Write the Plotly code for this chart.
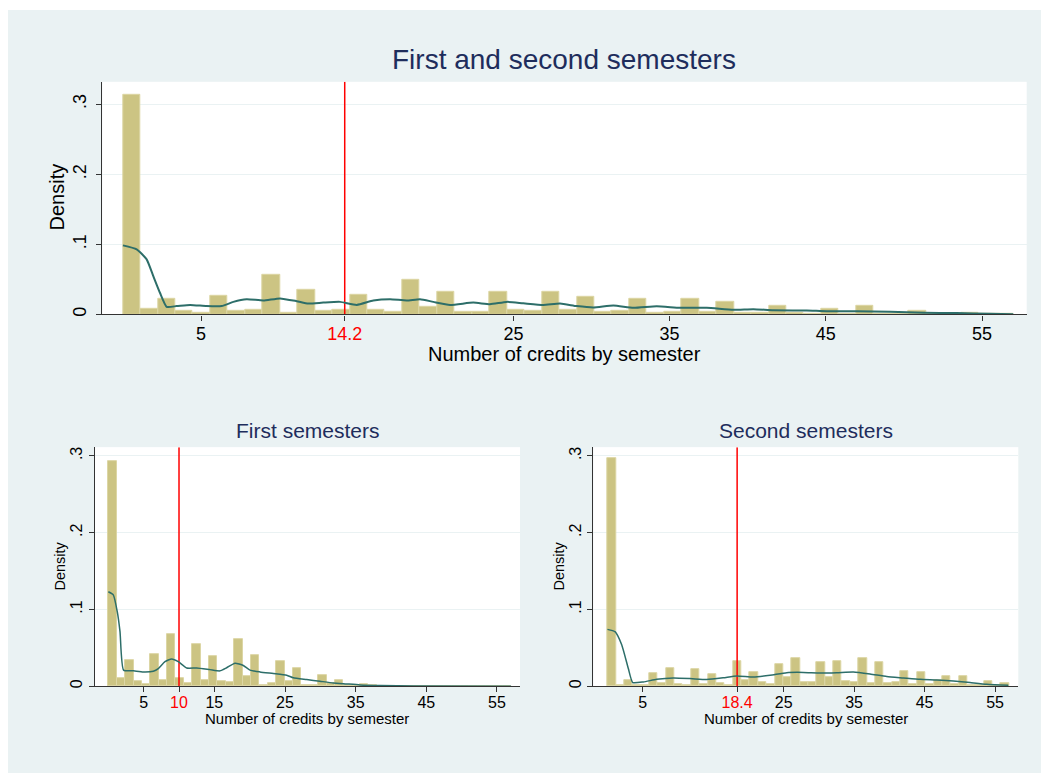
import plotly.graph_objects as go

# ---------------- data ----------------
credit_max = 57

top_heights = [0.314, 0.0076, 0.023, 0.0047, 0.002, 0.026, 0.0047, 0.006, 0.057, 0.003,
               0.035, 0.0057, 0.006, 0.028, 0.006, 0.0045, 0.050, 0.0105, 0.032, 0.0045,
               0.0045, 0.033, 0.006, 0.005, 0.032, 0.0072, 0.025, 0.004, 0.005, 0.022,
               0.003, 0.004, 0.022, 0.004, 0.018, 0.002, 0.002, 0.012, 0.002, 0.0015,
               0.0076, 0.0015, 0.012, 0.0015, 0.001, 0.005, 0.001, 0.001, 0.003, 0.001,
               0.0005]
first_heights = [0.2935, 0.011, 0.0346, 0.006, 0.003, 0.042, 0.0078, 0.068, 0.011, 0.0043,
                 0.055, 0.0074, 0.039, 0.006, 0.0048, 0.061, 0.0126, 0.041, 0.002, 0.004,
                 0.033, 0.007, 0.023, 0.002, 0.0013, 0.015, 0.004, 0.0078, 0.0013, 0.001,
                 0.003, 0.0013, 0.0005, 0.0004, 0.0003, 0.0003, 0.0002, 0.0002, 0.0002, 0.0001,
                 0.0002, 0.0001, 0.0001, 0.0001, 0.0001, 0.0001, 0.0001, 0.0001]
second_heights = [0.297, 0.001, 0.0078, 0.002, 0.001, 0.0169, 0.0035, 0.0238, 0.0026, 0.0013,
                  0.0216, 0.003, 0.0156, 0.0043, 0.002, 0.0325, 0.0078, 0.018, 0.0048, 0.0026,
                  0.0286, 0.012, 0.036, 0.0048, 0.0048, 0.031, 0.012, 0.0325, 0.0065, 0.0048,
                  0.036, 0.0039, 0.032, 0.0035, 0.0048, 0.020, 0.003, 0.018, 0.003, 0.0078,
                  0.0126, 0.003, 0.0126, 0.0017, 0.0017, 0.006, 0.0017, 0.0035]

top_kde_x = [0, 0.88, 1.52, 1.94, 2.37, 2.8, 3.44, 4.3, 5.36, 6.32, 7.07, 7.92, 8.99, 10.06,
             11.13, 11.87, 12.83, 13.9, 14.97, 16.03, 17.1, 18.17, 19.02, 19.87, 20.94,
             22.43, 23.5, 24.57, 25.63, 26.91, 27.98, 29.05, 30.12, 31.4, 32.68, 34.17,
             35.67, 37.38, 39.08, 40.36, 41.64, 43.78, 45.06, 46.98, 49.11, 51.24, 53.38,
             55.51, 57.0]
top_kde_y = [0.0986, 0.093, 0.0787, 0.055, 0.031, 0.011, 0.012, 0.0137, 0.012, 0.012, 0.018,
             0.0218, 0.020, 0.023, 0.019, 0.0156, 0.017, 0.018, 0.0137, 0.020, 0.0218, 0.020,
             0.0218, 0.018, 0.0137, 0.017, 0.0147, 0.018, 0.016, 0.0137, 0.0156, 0.012,
             0.010, 0.0128, 0.0095, 0.0118, 0.0095, 0.0095, 0.0066, 0.0076, 0.006, 0.0057,
             0.0047, 0.0047, 0.0038, 0.0024, 0.002, 0.001, 0.0005]

first_kde_x = [0, 0.7, 1.26, 1.65, 2.15, 3.53, 4.94, 6.36, 7.07, 8.01, 8.96, 9.9, 11.08,
               12.5, 14.38, 15.8, 16.74, 17.92, 19.1, 20.05, 21.46, 23.35, 25.24, 26.17,
               28.07, 29.95, 31.84, 33.73, 35.62, 38.45, 43.16, 57]
first_kde_y = [0.123, 0.119, 0.097, 0.071, 0.021, 0.020, 0.0186, 0.0195, 0.023, 0.032,
               0.0355, 0.032, 0.0238, 0.0238, 0.0216, 0.020, 0.024, 0.030, 0.027, 0.021,
               0.0186, 0.0165, 0.0143, 0.011, 0.0087, 0.0065, 0.0043, 0.003, 0.0017,
               0.0009, 0.0003, 0.0]

second_kde_x = [0, 1.07, 2.02, 2.96, 3.58, 5.09, 6.99, 9.35, 11.71, 14.08, 16.44, 18.34,
                20.7, 23.07, 25.44, 27.79, 30.16, 32.53, 34.89, 37.26, 39.63, 41.98, 44.35,
                46.72, 49.08, 51.45, 53.82, 56.89]
second_kde_y = [0.074, 0.071, 0.054, 0.023, 0.0048, 0.0056, 0.009, 0.0108, 0.010, 0.0087,
                0.011, 0.0134, 0.012, 0.0143, 0.0177, 0.018, 0.0173, 0.0177, 0.0186, 0.016,
                0.0126, 0.0108, 0.009, 0.0082, 0.0069, 0.0048, 0.0026, 0.0013]

means = [14.2, 10, 18.4]
top_ticks = [5, 14.2, 25, 35, 45, 55]
first_ticks = [5, 10, 15, 25, 35, 45, 55]
second_ticks = [5, 18.4, 25, 35, 45, 55]
y_ticks = [0, 0.1, 0.2, 0.3]
y_ticklabels = ["0", ".1", ".2", ".3"]

titles = ["First and second semesters", "First semesters", "Second semesters"]
x_title = "Number of credits by semester"
y_title = "Density"

# ---------------- style ----------------
OFF = 8                       # page body margin of the html
W, H = 1049 - OFF, 773 - OFF
FONT = "Arial, Liberation Sans, sans-serif"
BG = "#eaf2f3"
BAR_FILL = "#ccc483"
BAR_EDGE = "#dcd6a4"
KDE_COLOR = "#2d6e69"
RED = "#ff0000"


def fx(p):
    return (p - OFF) / W


def fy(p):
    return 1 - (p - OFF) / H


fig = go.Figure()

panels = [
    dict(h=top_heights, kx=top_kde_x, ky=top_kde_y, ticks=top_ticks, mean=means[0],
         ax="x", ay="y", xdom=[fx(102.3), fx(1026.7)], ydom=[fy(315.3), fy(82)],
         xr=[-1.32, 57.86], yr=[0, 0.332], tfs=18, lw=2, xso=-2, yso=3),
    dict(h=first_heights, kx=first_kde_x, ky=first_kde_y, ticks=first_ticks, mean=means[1],
         ax="x2", ay="y2", xdom=[fx(95), fx(520)], ydom=[fy(688), fy(448.3)],
         xr=[-1.89, 58.26], yr=[0, 0.3113], tfs=16, lw=1.5, xso=-4, yso=0),
    dict(h=second_heights, kx=second_kde_x, ky=second_kde_y, ticks=second_ticks, mean=means[2],
         ax="x3", ay="y3", xdom=[fx(593.3), fx(1018.3)], ydom=[fy(688), fy(448.3)],
         xr=[-2.01, 58.3], yr=[0, 0.3113], tfs=16, lw=1.5, xso=-4, yso=0),
]

shapes = [
    dict(type="rect", xref="paper", yref="paper", x0=0, x1=1, y0=fy(10), y1=1,
         fillcolor="white", line=dict(width=0), layer="below"),
]

for i, p in enumerate(panels):
    n = len(p["h"])
    bw = credit_max / n
    centers = [(k + 0.5) * bw for k in range(n)]
    # mean line drawn first so that bars cover it
    fig.add_trace(go.Scatter(x=[p["mean"], p["mean"]], y=[0, p["yr"][1]], mode="lines",
                             xaxis=p["ax"], yaxis=p["ay"], line=dict(color=RED, width=1.5),
                             showlegend=False, cliponaxis=True))
    fig.add_trace(go.Bar(x=centers, y=p["h"], width=bw, xaxis=p["ax"], yaxis=p["ay"],
                         marker=dict(color=BAR_FILL, line=dict(color=BAR_EDGE, width=1)),
                         showlegend=False))
    fig.add_trace(go.Scatter(x=p["kx"], y=p["ky"], mode="lines", xaxis=p["ax"], yaxis=p["ay"],
                             line=dict(color=KDE_COLOR, width=p["lw"], shape="spline", smoothing=0.5),
                             showlegend=False))
    suffix = "" if i == 0 else str(i + 1)
    ticktext = []
    for t in p["ticks"]:
        lab = ("%g" % t)
        if t == p["mean"]:
            lab = '<span style="color:%s">%s</span>' % (RED, lab)
        ticktext.append(lab)
    fig.layout["xaxis" + suffix] = dict(
        domain=p["xdom"], range=p["xr"], anchor="y" + suffix,
        tickvals=p["ticks"], ticktext=ticktext, ticks="outside", ticklen=5, tickwidth=1,
        tickcolor="#333333", showline=True, linecolor="#333333", linewidth=1.3,
        showgrid=False, zeroline=False, tickfont=dict(size=p["tfs"], color="black", family=FONT),
        ticklabelstandoff=p["xso"], fixedrange=True)
    fig.layout["yaxis" + suffix] = dict(
        domain=p["ydom"], range=p["yr"], anchor="x" + suffix,
        tickvals=y_ticks, ticktext=y_ticklabels, tickangle=-90, ticks="outside", ticklen=5,
        tickwidth=1, tickcolor="#333333", showline=True, linecolor="#333333", linewidth=1.3,
        showgrid=True, gridcolor=BG, gridwidth=1.3, zeroline=False,
        tickfont=dict(size=p["tfs"], color="black", family=FONT),
        ticklabelstandoff=p["yso"], fixedrange=True)

annotations = [
    dict(text=titles[0], x=fx(564), y=fy(60), font=dict(size=28, color="#1e2d5c", family=FONT)),
    dict(text=titles[1], x=fx(307.5), y=fy(432), font=dict(size=21, color="#1e2d5c", family=FONT)),
    dict(text=titles[2], x=fx(806), y=fy(432), font=dict(size=21, color="#1e2d5c", family=FONT)),
    dict(text=x_title, x=fx(564), y=fy(355), font=dict(size=20, color="black", family=FONT)),
    dict(text=x_title, x=fx(306.7), y=fy(720), font=dict(size=15, color="black", family=FONT)),
    dict(text=x_title, x=fx(806), y=fy(720), font=dict(size=15, color="black", family=FONT)),
    dict(text=y_title, x=fx(57), y=fy(198), textangle=-90, font=dict(size=20, color="black", family=FONT)),
    dict(text=y_title, x=fx(60), y=fy(568), textangle=-90, font=dict(size=14.5, color="black", family=FONT)),
    dict(text=y_title, x=fx(559), y=fy(568), textangle=-90, font=dict(size=14.5, color="black", family=FONT)),
]
for a in annotations:
    a.update(xref="paper", yref="paper", xanchor="center", yanchor="middle", showarrow=False)

fig.update_layout(
    width=W, height=H, margin=dict(l=0, r=0, t=0, b=0),
    paper_bgcolor=BG, plot_bgcolor="white", bargap=0,
    font=dict(family=FONT, color="black"),
    shapes=shapes, annotations=annotations, showlegend=False,
)

fig.write_html("out.html")
